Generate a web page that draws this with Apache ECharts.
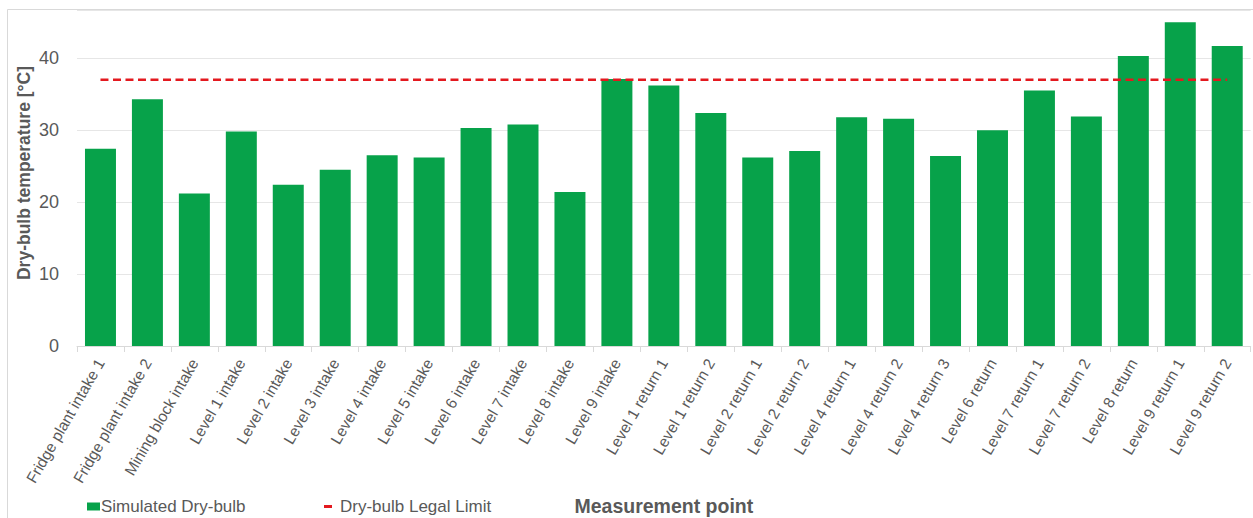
<!DOCTYPE html>
<html>
<head>
<meta charset="utf-8">
<title>Simulated dry-bulb temperature by measurement point</title>
<script src="https://cdn.jsdelivr.net/npm/echarts@6/dist/echarts.min.js"></script>
<style>
  html, body { margin: 0; padding: 0; background: #ffffff; }
  #chart { width: 1253px; height: 518px; }
</style>
</head>
<body>
<div id="chart"></div>
<script>
// Measurement points along the ventilation circuit
var categories = [
  'Fridge plant intake 1', 'Fridge plant intake 2', 'Mining block intake',
  'Level 1 intake', 'Level 2 intake', 'Level 3 intake', 'Level 4 intake',
  'Level 5 intake', 'Level 6 intake', 'Level 7 intake', 'Level 8 intake',
  'Level 9 intake', 'Level 1 return 1', 'Level 1 return 2', 'Level 2 return 1',
  'Level 2 return 2', 'Level 4 return 1', 'Level 4 return 2', 'Level 4 return 3',
  'Level 6 return', 'Level 7 return 1', 'Level 7 return 2', 'Level 8 return',
  'Level 9 return 1', 'Level 9 return 2'
];

// Simulated dry-bulb temperature, °C
var simulatedDryBulb = [
  27.4, 34.3, 21.2, 29.8, 22.4, 24.5, 26.5, 26.2, 30.3, 30.8, 21.4, 37.1,
  36.2, 32.4, 26.2, 27.1, 31.8, 31.6, 26.4, 30.0, 35.5, 31.9, 40.3, 45.0, 41.7
];

// Legal dry-bulb limit, °C
var legalLimit = 37;
var legalLimitLine = categories.map(function () { return legalLimit; });

// Value axis ticks
var yTicks = { min: 0, max: 46.7, interval: 10 };

var FONT = '"Liberation Sans", Arial, Helvetica, sans-serif';
var TEXT = '#595959';
var GREEN = '#07a24a';
var RED = '#e3191f';

var chart = echarts.init(document.getElementById('chart'), null, { renderer: 'svg' });

chart.setOption({
  animation: false,
  backgroundColor: '#ffffff',
  textStyle: { fontFamily: FONT, color: TEXT },
  graphic: [{
    type: 'rect',
    silent: true,
    z: -10,
    shape: { x: 7.5, y: 9.5, width: 1400, height: 700 },
    style: { fill: 'none', stroke: '#d9d9d9', lineWidth: 1 }
  }],
  grid: {
    left: 77, right: 2.3, top: 10, bottom: 172,
    containLabel: false,
    outerBoundsMode: 'none'
  },
  legend: [{
    data: [{ name: 'Simulated Dry-bulb', icon: 'rect' }],
    left: 82,
    top: 493,
    itemWidth: 13,
    itemHeight: 8,
    textStyle: { fontFamily: FONT, fontSize: 17, color: TEXT, padding: [0, 0, 0, -4] }
  }, {
    data: [{ name: 'Dry-bulb Legal Limit', icon: 'rect' }],
    left: 319,
    top: 493,
    itemWidth: 8,
    itemHeight: 3,
    textStyle: { fontFamily: FONT, fontSize: 17, color: TEXT, padding: [0, 0, 0, 3] }
  }],
  xAxis: {
    type: 'category',
    data: categories,
    name: 'Measurement point',
    nameLocation: 'middle',
    nameGap: 150,
    nameMoveOverlap: false,
    nameTextStyle: { fontFamily: FONT, fontSize: 19.5, fontWeight: 'bold', color: TEXT },
    axisLine: { lineStyle: { color: '#d9d9d9', width: 1 } },
    axisTick: { show: true, length: 6, lineStyle: { color: '#d9d9d9' } },
    axisLabel: {
      interval: 0,
      rotate: 60,
      margin: 14,
      fontFamily: FONT,
      fontSize: 15.5,
      color: TEXT
    },
    splitLine: { show: false }
  },
  yAxis: {
    type: 'value',
    min: yTicks.min,
    max: yTicks.max,
    interval: yTicks.interval,
    name: 'Dry-bulb temperature [°C]',
    nameLocation: 'middle',
    nameRotate: 90,
    nameGap: 44,
    nameMoveOverlap: false,
    nameTextStyle: { fontFamily: FONT, fontSize: 17.5, fontWeight: 'bold', color: TEXT, padding: [0, 0, 0, 10] },
    axisLine: { show: false },
    axisTick: { show: false },
    axisLabel: {
      showMaxLabel: false,
      margin: 18,
      fontFamily: FONT,
      fontSize: 18,
      color: TEXT
    },
    splitLine: { show: true, lineStyle: { color: '#e6e6e6', width: 1 } }
  },
  series: [{
    name: 'Simulated Dry-bulb',
    type: 'bar',
    data: simulatedDryBulb,
    barWidth: '66%',
    itemStyle: { color: GREEN },
    z: 2
  }, {
    name: 'Dry-bulb Legal Limit',
    type: 'line',
    data: legalLimitLine,
    symbol: 'none',
    itemStyle: { color: RED },
    lineStyle: { color: RED, width: 2.5, type: [8, 4.5] },
    z: 3
  }]
});
</script>
</body>
</html>
